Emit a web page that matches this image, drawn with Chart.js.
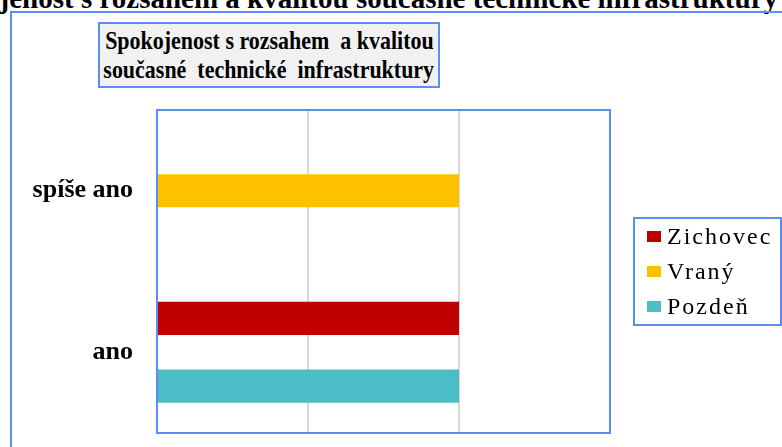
<!DOCTYPE html>
<html>
<head>
<meta charset="utf-8">
<script src="https://cdn.jsdelivr.net/npm/chart.js@4"></script>
<style>
  body { margin: 0; width: 782px; height: 447px; overflow: hidden; background: #fff; position: relative; font-family: "Liberation Serif", "Times New Roman", serif; }
  #topTitle { position: absolute; right: 4px; top: -18px; font-weight: bold; font-size: 29px; white-space: nowrap; color: #000; }
  #frame { position: absolute; left: 10px; top: 11px; width: 800px; height: 460px; border: 2px solid #5b8ef0; box-sizing: border-box; }
  #titleBox { position: absolute; left: 98px; top: 22px; width: 342px; height: 66px; box-sizing: border-box; border: 2px solid #5b8ef0; background: #f1f1f1; font-weight: bold; font-size: 26px; line-height: 29px; padding-top: 2px; display: flex; flex-direction: column; align-items: center; }
  #titleBox span { display: block; white-space: nowrap; transform: scaleX(0.845); }
  #c { position: absolute; left: 0; top: 0; }
</style>
</head>
<body>
<div id="topTitle">Spokojenost s rozsahem a kvalitou současné technické infrastruktury</div>
<div id="frame"></div>
<div id="titleBox"><span>Spokojenost s rozsahem&nbsp; a kvalitou</span><span>současné&nbsp; technické&nbsp; infrastruktury</span></div>
<canvas id="c" width="782" height="447"></canvas>
<script>
var categories = ['spíše ano', 'ano'];
var zichovec = [null, 2];
var vrany = [2, null];
var pozden = [null, 2];
var seriesNames = ['Zichovec', 'Vraný', 'Pozdeň'];
var seriesColors = ['#c00000', '#ffc000', '#4bbdc6'];
var xMax = 3;

var frameBlue = '#5b8ef0';

// plot border + legend box drawn on top
var extras = {
  id: 'extras',
  afterDraw(chart) {
    var ctx = chart.ctx, a = chart.chartArea;
    ctx.save();
    ctx.strokeStyle = frameBlue;
    ctx.lineWidth = 2;
    ctx.strokeRect(a.left, a.top, a.right - a.left, a.bottom - a.top);
    // legend
    var lx = 634, ly = 218, lw = 147, lh = 107;
    ctx.fillStyle = '#fff';
    ctx.fillRect(lx, ly, lw, lh);
    ctx.strokeRect(lx, ly, lw, lh);
    ctx.font = '24px "Liberation Serif", serif';
    ctx.letterSpacing = '2px';
    ctx.textBaseline = 'alphabetic';
    seriesNames.forEach(function (n, i) {
      var y = ly + 18 + i * 35;
      ctx.fillStyle = seriesColors[i];
      ctx.fillRect(lx + 13, y - 5, 14, 11);
      ctx.fillStyle = '#000';
      ctx.fillText(n, lx + 33, y + 8);
    });
    ctx.restore();
  }
};

new Chart(document.getElementById('c'), {
  type: 'bar',
  data: {
    labels: categories,
    datasets: [
      { label: seriesNames[0], data: zichovec, backgroundColor: seriesColors[0] },
      { label: seriesNames[1], data: vrany, backgroundColor: seriesColors[1] },
      { label: seriesNames[2], data: pozden, backgroundColor: seriesColors[2] }
    ]
  },
  options: {
    indexAxis: 'y',
    responsive: false,
    animation: false,
    datasets: { bar: { categoryPercentage: 0.63, barPercentage: 0.98 } },
    layout: { padding: { top: 110, right: 172, bottom: 14, left: 0 } },
    plugins: { legend: { display: false }, title: { display: false }, tooltip: { enabled: false } },
    scales: {
      x: {
        min: 0, max: xMax,
        ticks: { display: false, stepSize: 1 },
        grid: { color: '#d9d9d9', lineWidth: 2, drawTicks: false },
        border: { display: false },
        afterFit(s) { s.height = 0; }
      },
      y: {
        ticks: { color: '#000', font: { family: '"Liberation Serif", serif', size: 26, weight: 'bold' }, padding: 24 },
        grid: { display: false, drawTicks: false },
        border: { display: false },
        afterFit(s) { s.width = 157; s.paddingTop = 0; s.paddingBottom = 0; }
      }
    }
  },
  plugins: [extras]
});
</script>
</body>
</html>
